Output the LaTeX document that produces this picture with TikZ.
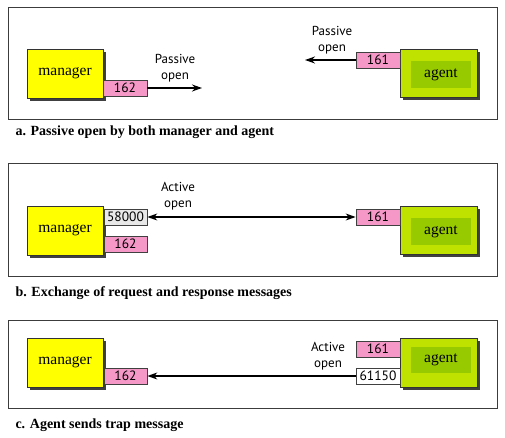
\documentclass[tikz,border=0pt]{standalone}
\usepackage{fontspec}
\setmainfont{Liberation Serif}
\newfontfamily\labelfont{PT Sans}
\usetikzlibrary{arrows.meta,shadows}
\definecolor{portpink}{RGB}{245,152,200}
\definecolor{portgray}{RGB}{232,232,232}
\definecolor{mgryellow}{RGB}{255,255,0}
\definecolor{agentlime}{RGB}{192,226,0}
\definecolor{agentinner}{RGB}{152,202,0}
\definecolor{framegray}{RGB}{60,60,60}
\tikzset{
  panel/.style={draw=framegray, line width=0.9pt},
  hostbox/.style={draw=black!80, line width=0.8pt, inner sep=0pt,
    drop shadow={shadow xshift=3pt, shadow yshift=-3pt, fill=black!75, opacity=1}},
  mgrbox/.style={hostbox, fill=mgryellow, minimum width=76pt, minimum height=49pt,
    font=\fontsize{15.5}{17}\selectfont},
  agentbox/.style={hostbox, fill=agentlime, minimum width=77pt, minimum height=48pt},
  innerbox/.style={fill=agentinner, inner sep=0pt, minimum width=60pt, minimum height=27pt,
    font=\fontsize{15.5}{17}\selectfont},
  portbox/.style={draw=black!75, line width=0.7pt, inner sep=0pt, minimum width=44pt,
    minimum height=16pt, font=\labelfont\fontsize{13.5}{14}\selectfont},
  pinkport/.style={portbox, fill=portpink},
  grayport/.style={portbox, fill=portgray},
  whiteport/.style={portbox, fill=white},
  lbl/.style={align=center, font=\labelfont\fontsize{13}{16}\selectfont},
  caption/.style={anchor=west, font=\bfseries\fontsize{14}{16}\selectfont},
  conn/.style={line width=1.4pt, -{Stealth[length=10pt,width=7pt]}},
  conn2/.style={line width=1.4pt, {Stealth[length=10pt,width=7pt]}-{Stealth[length=10pt,width=7pt]}}
}
\begin{document}
\begin{tikzpicture}[x=1pt,y=-1pt]
\useasboundingbox (0,0) rectangle (505,438);
% ---------- panel a ----------
\draw[panel] (8,7) rectangle (497,119);
\node[mgrbox] (ma) at (65,73.5) {manager};
\node[pinkport] (pa162) at (125,88) {162};
\coordinate (ea) at (202,88);
\draw[conn] (pa162.east) -- (ea);
\node[lbl] (la1) at (175,68) {Passive\\open};
\node[agentbox] (aa) at (438.5,73.5) {};
\node[innerbox] (ia) at (441,74.5) {agent};
\node[pinkport] (pa161) at (378,60) {161};
\coordinate (eb) at (305,60);
\draw[conn] (pa161.west) -- (eb);
\node[lbl] (la2) at (332,40) {Passive\\open};
\node[caption] (ca) at (12,132) {a. Passive open by both manager and agent};
% ---------- panel b ----------
\draw[panel] (8,163) rectangle (497,276);
\node[mgrbox] (mb) at (65,230.5) {manager};
\node[grayport, minimum width=43pt] (pb58) at (125.5,217) {58000};
\node[pinkport, minimum width=43pt] (pb162) at (125.5,244) {162};
\node[agentbox] (ab) at (438.5,230) {};
\node[innerbox] (ib) at (441,231.5) {agent};
\node[pinkport] (pb161) at (378,217) {161};
\draw[conn2] (pb58.east) -- (pb161.west);
\node[lbl] (lb) at (178,196) {Active\\open};
\node[caption] (cb) at (12,293) {b. Exchange of request and response messages};
% ---------- panel c ----------
\draw[panel] (8,320) rectangle (497,408);
\node[mgrbox] (mc) at (65,362.5) {manager};
\node[pinkport, minimum width=43pt] (pc162) at (125.5,376) {162};
\node[agentbox, minimum height=49pt] (ac) at (438.5,362.5) {};
\node[innerbox, minimum height=26pt] (ic) at (441,360) {agent};
\node[pinkport] (pc161) at (378,349) {161};
\node[whiteport] (pc611) at (378,376) {61150};
\draw[conn] (pc611.west) -- (pc162.east);
\node[lbl] (lc) at (328,356) {Active\\open};
\node[caption] (cc) at (12,425) {c. Agent sends trap message};
\end{tikzpicture}
\end{document}
